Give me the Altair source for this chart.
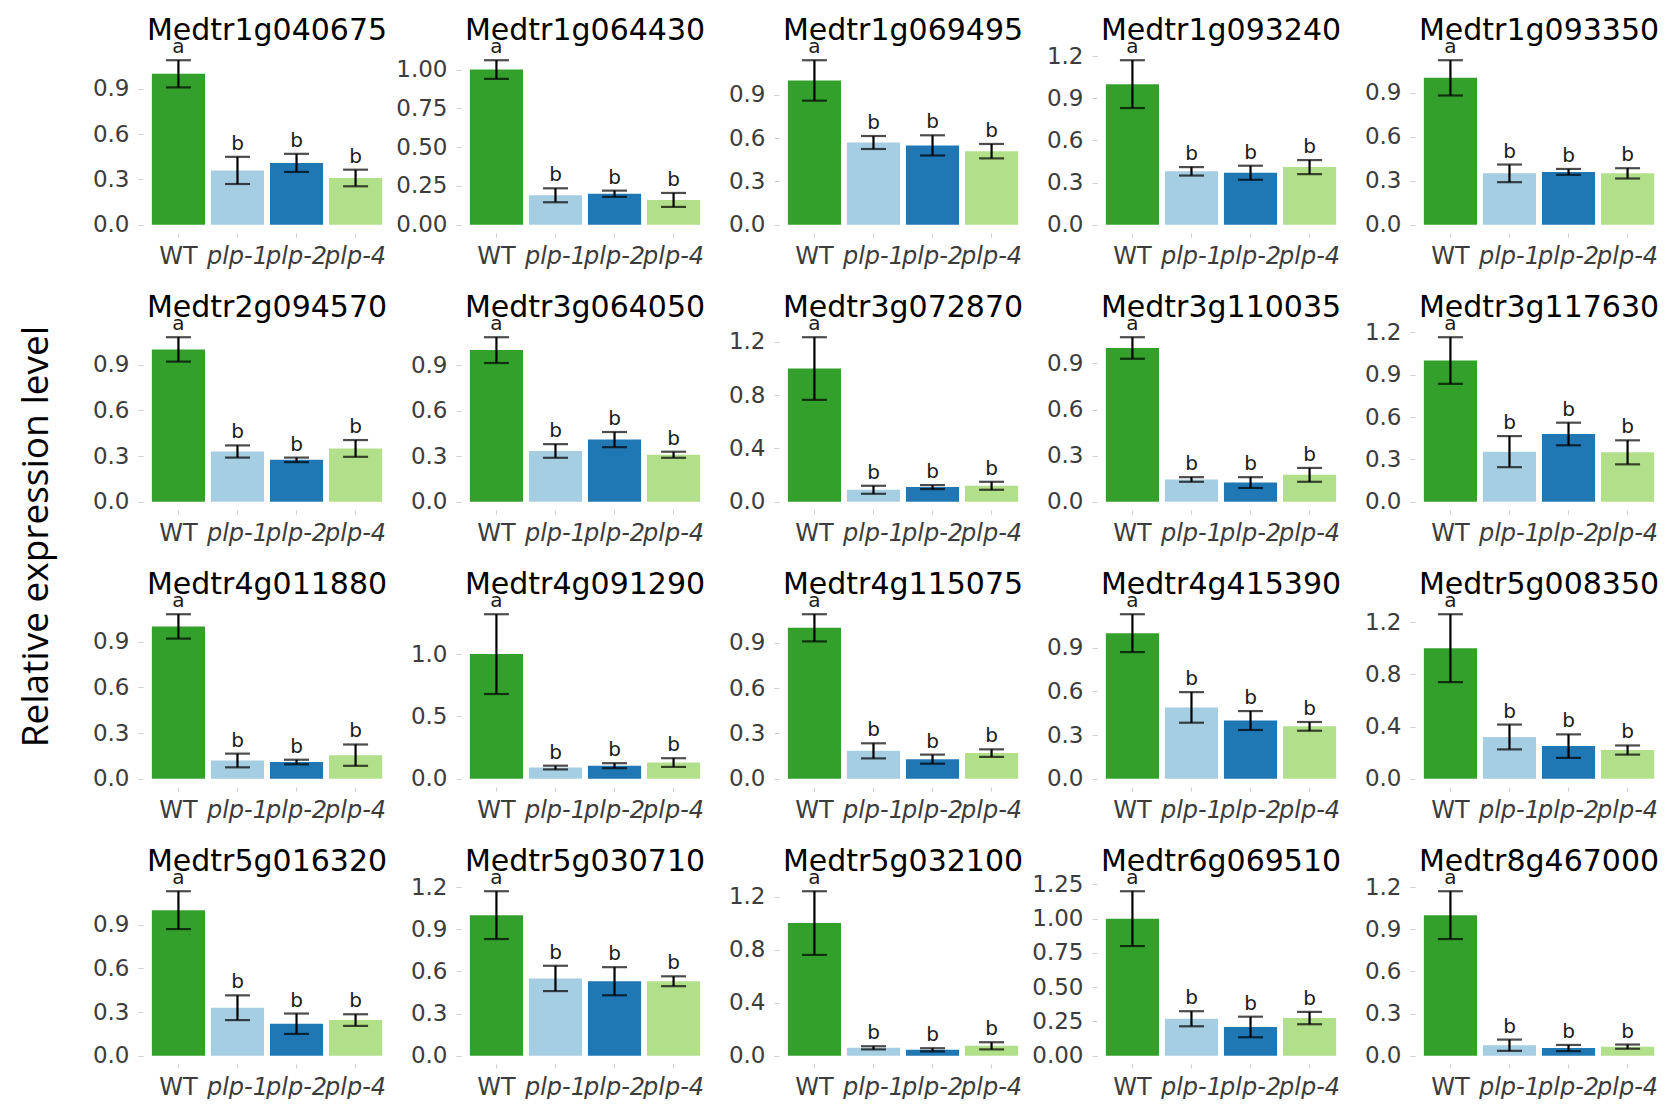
import altair as alt
import pandas as pd

genes = ["Medtr1g040675", "Medtr1g064430", "Medtr1g069495", "Medtr1g093240", "Medtr1g093350",
         "Medtr2g094570", "Medtr3g064050", "Medtr3g072870", "Medtr3g110035", "Medtr3g117630",
         "Medtr4g011880", "Medtr4g091290", "Medtr4g115075", "Medtr4g415390", "Medtr5g008350",
         "Medtr5g016320", "Medtr5g030710", "Medtr5g032100", "Medtr6g069510", "Medtr8g467000"]
genotypes = ["WT", "plp-1", "plp-2", "plp-4"]

means = [
    [1.00, 0.36, 0.41, 0.31],
    [1.00, 0.19, 0.20, 0.16],
    [1.00, 0.57, 0.55, 0.51],
    [1.00, 0.38, 0.37, 0.41],
    [1.00, 0.35, 0.36, 0.35],
    [1.00, 0.33, 0.275, 0.35],
    [1.00, 0.335, 0.41, 0.31],
    [1.00, 0.09, 0.11, 0.12],
    [1.00, 0.145, 0.125, 0.175],
    [1.00, 0.355, 0.48, 0.35],
    [1.00, 0.12, 0.11, 0.155],
    [1.00, 0.09, 0.105, 0.13],
    [1.00, 0.185, 0.13, 0.17],
    [1.00, 0.49, 0.40, 0.36],
    [1.00, 0.32, 0.25, 0.22],
    [1.00, 0.33, 0.22, 0.245],
    [1.00, 0.55, 0.53, 0.53],
    [1.00, 0.06, 0.045, 0.075],
    [1.00, 0.27, 0.21, 0.275],
    [1.00, 0.075, 0.055, 0.065],
]
ses = [
    [0.09, 0.09, 0.06, 0.055],
    [0.06, 0.045, 0.02, 0.045],
    [0.14, 0.045, 0.07, 0.05],
    [0.17, 0.03, 0.05, 0.05],
    [0.12, 0.06, 0.02, 0.035],
    [0.08, 0.04, 0.015, 0.055],
    [0.085, 0.045, 0.05, 0.02],
    [0.235, 0.03, 0.015, 0.03],
    [0.07, 0.015, 0.035, 0.045],
    [0.165, 0.11, 0.08, 0.085],
    [0.08, 0.045, 0.015, 0.07],
    [0.32, 0.015, 0.02, 0.035],
    [0.09, 0.05, 0.03, 0.025],
    [0.13, 0.105, 0.065, 0.03],
    [0.26, 0.095, 0.09, 0.035],
    [0.13, 0.085, 0.07, 0.04],
    [0.17, 0.09, 0.10, 0.035],
    [0.24, 0.012, 0.012, 0.027],
    [0.20, 0.055, 0.075, 0.045],
    [0.17, 0.04, 0.022, 0.015],
]
letters = [["a", "b", "b", "b"] for _ in genes]
ticks = [
    [0, 0.3, 0.6, 0.9], [0, 0.25, 0.5, 0.75, 1.0], [0, 0.3, 0.6, 0.9], [0, 0.3, 0.6, 0.9, 1.2], [0, 0.3, 0.6, 0.9],
    [0, 0.3, 0.6, 0.9], [0, 0.3, 0.6, 0.9], [0, 0.4, 0.8, 1.2], [0, 0.3, 0.6, 0.9], [0, 0.3, 0.6, 0.9, 1.2],
    [0, 0.3, 0.6, 0.9], [0, 0.5, 1.0], [0, 0.3, 0.6, 0.9], [0, 0.3, 0.6, 0.9], [0, 0.4, 0.8, 1.2],
    [0, 0.3, 0.6, 0.9], [0, 0.3, 0.6, 0.9, 1.2], [0, 0.4, 0.8, 1.2], [0, 0.25, 0.5, 0.75, 1.0, 1.25], [0, 0.3, 0.6, 0.9, 1.2],
]
tick_formats = [".1f", ".2f", ".1f", ".1f", ".1f",
                ".1f", ".1f", ".1f", ".1f", ".1f",
                ".1f", ".1f", ".1f", ".1f", ".1f",
                ".1f", ".1f", ".1f", ".2f", ".1f"]
colors = ["#33a02c", "#a6cee3", "#1f78b4", "#b2df8a"]

FONT = "DejaVu Sans"
W, H = 248, 181


def panel(i):
    df = pd.DataFrame({"g": genotypes, "m": means[i], "se": ses[i], "lab": letters[i]})
    df["lo"] = df["m"] - df["se"]
    df["hi"] = df["m"] + df["se"]
    M = float(df["hi"].max())
    xenc = alt.X(
        "g:N", sort=genotypes,
        scale=alt.Scale(paddingInner=0.1, paddingOuter=0.15),
        axis=alt.Axis(title=None, labelAngle=0, labelOverlap=False, labelFontSize=24,
                      labelPadding=7, labelLimit=200, tickSize=4,
                      labelFontStyle={"condition": {"test": "datum.value === 'WT'", "value": "normal"},
                                      "value": "italic"}),
    )
    yscale = alt.Scale(domain=[-0.05 * M, 1.05 * M], nice=False, zero=False)
    yaxis = alt.Axis(title=None, values=ticks[i], format=tick_formats[i], labelPadding=9)

    def Y(field):
        return alt.Y(field, type="quantitative", scale=yscale, axis=yaxis)

    base = alt.Chart(df)
    bars = base.mark_bar().encode(
        x=xenc, y=Y("m"), y2=alt.datum(0),
        color=alt.Color("g:N", scale=alt.Scale(domain=genotypes, range=colors), legend=None),
    )
    rule = base.mark_rule(color="black", strokeWidth=2.2).encode(x=xenc, y=Y("lo"), y2="hi:Q")
    cap_lo = base.mark_tick(color="black", thickness=2.2, size=25).encode(x=xenc, y=Y("lo"))
    cap_hi = base.mark_tick(color="black", thickness=2.2, size=25).encode(x=xenc, y=Y("hi"))
    txt = base.mark_text(font=FONT, fontSize=20, baseline="alphabetic", dy=-7, color="#1a1a1a").encode(
        x=xenc, y=Y("hi"), text="lab:N")
    return alt.layer(bars, rule, cap_lo, cap_hi, txt).properties(
        width=W, height=H,
        title=alt.TitleParams(genes[i], font=FONT, fontSize=30, fontWeight="normal", color="black",
                              frame="group", anchor="middle", offset=13, baseline="alphabetic", dy=46),
    )


chart = alt.concat(
    *[panel(i) for i in range(len(genes))],
    columns=5, spacing={"row": 96, "column": 70}, bounds="flush",
).properties(
    title=alt.TitleParams("Relative expression level", orient="left", anchor="middle", font="Open Sans",
                          fontSize=37, fontWeight="normal", color="black", offset=7,
                          baseline="alphabetic", dx=21),
    padding={"top": 8, "left": 10, "right": 0, "bottom": 0},
).configure_view(stroke=None).configure_axis(
    domain=False, grid=False, tickColor="#d0d0d0", tickSize=5, tickWidth=1,
    labelFont=FONT, labelFontSize=23, labelColor="#3c3c3c",
)

chart.save("out.html", embed_options={"renderer": "svg", "actions": False})
